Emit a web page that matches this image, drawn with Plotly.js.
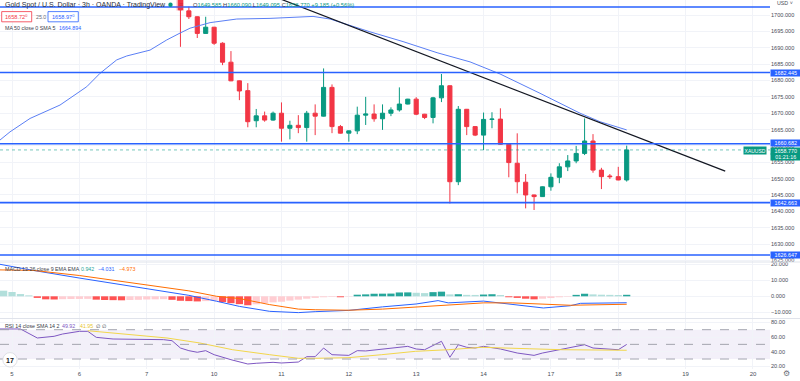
<!DOCTYPE html>
<html><head><meta charset="utf-8">
<script src="https://cdn.plot.ly/plotly-3.0.1.min.js"></script>
<style>html,body{margin:0;padding:0;background:#fff;}#chart{width:800px;height:381px;}</style>
</head><body><div id="chart"></div>
<script>
// ================= DATA =================
const dayLabels = ['5','6','7','10','11','12','13','14','17','18','19','20'];
const candlesPerDay = 8;          // 3h candles
const firstCandleIndex = 20;      // first visible candle (day 7, 12:00)

const open  = [1708.0,1701.3,1699.5,1694.4,1696.3,1691.4,1685.6,1679.9,1676.9,1667.7,1669.2,1667.9,1670.0,1665.4,1666.3,1665.6,1670.0,1669.1,1677.9,1665.9,1663.9,1664.6,1669.4,1669.75,1668.3,1670.0,1671.0,1672.8,1674.3,1669.7,1668.7,1674.7,1678.4,1649.05,1671.2,1665.9,1663.3,1668.1,1668.2,1660.5,1654.7,1648.9,1645.0,1644.5,1647.5,1650.4,1653.6,1655.4,1657.7,1661.5,1652.6,1650.8,1650.6,1649.585];
const high  = [1710.0,1702.6,1699.6,1699.5,1696.4,1691.7,1689.0,1680.0,1679.2,1671.3,1670.5,1670.5,1673.3,1667.7,1669.4,1670.7,1672.7,1683.7,1678.8,1666.4,1664.7,1672.0,1675.0,1672.7,1672.7,1671.8,1677.9,1674.4,1674.9,1669.8,1675.0,1682.0,1678.5,1672.2,1671.3,1666.0,1670.2,1670.3,1671.5,1660.6,1663.85,1651.4,1645.1,1647.6,1651.6,1654.7,1657.2,1660.0,1668.4,1663.6,1653.3,1651.4,1653.6,1660.090];
const low   = [1690.3,1698.8,1693.0,1694.3,1690.9,1684.7,1679.8,1674.0,1665.7,1665.7,1667.4,1667.7,1661.3,1662.0,1663.9,1661.3,1663.3,1669.0,1663.9,1663.8,1661.3,1663.6,1666.4,1667.4,1664.9,1669.1,1670.5,1672.7,1669.4,1668.2,1666.9,1673.4,1642.4,1648.0,1663.3,1663.0,1658.7,1665.4,1660.4,1650.4,1645.5,1640.9,1640.4,1644.4,1646.3,1648.6,1652.3,1654.7,1657.2,1651.8,1646.8,1649.9,1649.5,1649.095];
const close = [1701.6,1699.5,1694.4,1696.3,1691.4,1685.6,1679.9,1676.8,1667.4,1669.2,1667.9,1670.0,1665.4,1666.3,1665.6,1670.0,1669.1,1677.9,1665.9,1663.9,1664.6,1669.4,1669.75,1668.3,1670.0,1671.0,1672.8,1674.3,1669.7,1668.7,1674.7,1678.4,1649.05,1671.2,1665.9,1663.3,1668.1,1668.2,1660.5,1654.9,1649.05,1645.0,1644.5,1647.5,1650.4,1653.6,1655.4,1657.7,1661.5,1652.6,1650.6,1650.6,1649.585,1658.770];

// MA 50 (candle index positions, price)
const maX = [-1.43,-0.24,2.14,5.7,8.87,10.45,12.43,13.62,16.39,18.37,19.95,21.14,23.52,26.69,30.64,35.75,37.77,42.5,46.44,50.48,54.39,57.96,62.7,67.46,69.83,73];
const maY = [1661.8,1664.3,1668.4,1672.5,1678.1,1682.2,1686.3,1687.5,1689.3,1692.4,1694.5,1696.0,1697.7,1698.8,1699.0,1699.6,1698.8,1694.9,1691.9,1688.5,1685.7,1682.0,1676.1,1670.0,1667.4,1664.894];

// drawn trend line and horizontal levels
const trendX = [30.6, 84.7];
const trendY = [1706.2, 1652.3];
const topLevel = 1702.5;
const levels = [1682.445, 1660.682, 1642.663, 1626.647];
const lastPrice = 1658.770;
const countdown = '01:21:16';

// MACD
const histStart = -1;
const macdHist = [3.5,2.7,1.4,0.6,-1.0,-1.9,-2.0,-1.8,-1.7,-1.65,-1.6,-2.1,-2.3,-2.4,-2.5,-2.3,-2.2,-2.0,-1.9,-1.8,-2.2,-2.8,-3.0,-3.2,-3.0,-2.8,-3.6,-4.3,-4.9,-5.6,-5.0,-4.2,-3.8,-3.4,-2.7,-2.1,-1.5,-1.0,-0.6,-0.4,-0.6,-0.2,1.0,1.2,1.6,1.65,1.7,2.4,2.45,2.2,2.0,2.6,2.9,1.2,1.3,0.9,0.85,1.1,1.3,0.8,-0.6,-1.0,-1.5,-1.9,-1.5,-1.1,-0.6,-0.3,0.9,1.6,1.2,1.0,0.9,0.8,0.942];
const macdX = [-1.43,2.5,8,14.5,21,24.3,27,30.6,34,36,40,44,48,50.6,51.8,56,59.4,62,63.1,66.3,67.5,73];
const macdLine = [20.0,16.2,11.4,5.8,0.6,-3.1,-6.3,-9.4,-10.2,-9.6,-8.8,-6.6,-4.8,-2.7,-4.1,-3.0,-5.0,-6.5,-7.3,-5.9,-4.4,-4.031];
const signalX = [-1.43,2.5,8,14.5,21,24.3,27,30.6,34,36,40,44,48,51.8,56,59.4,62,66.3,73];
const signalLine = [16.5,16.2,13.0,8.1,3.4,0.0,-1.4,-5.2,-8.0,-8.4,-8.7,-8.0,-6.8,-5.3,-4.1,-4.1,-4.6,-5.6,-4.973];

// RSI
const rsiX = [-1.43,1,3,5,6,8,9,10,12,14,18,19,20,21,22,23,24,26,28,29,31,32,34,35,36,37,38,40,41,42,44,47,48,49,51,52,53,54,55,56,58,60,62,63,65,68,69,72,73];
const rsi  = [71,71,58.7,61,64.1,67.8,67.8,59.6,57.3,56.9,56.4,55,45,41.4,39.2,41.4,35.9,29.1,23.2,24.2,25.5,24.6,25.9,33.2,33.2,45,35.9,35,41.4,41,43.3,47.3,43.7,42.7,54.2,32.4,49.5,46,45,47.3,43.7,38.2,35,38.2,42.7,49.5,45,42.7,49.92];
const rsiMaX = [9,14.4,18.4,22.3,26.2,30.6,34,36,39.9,43.9,47.9,51.8,55.8,61.5,65.4,73];
const rsiMa  = [68.6,62.4,58.7,51.9,42.7,35.9,31,31,31.8,35.9,40.5,42.7,46,44,42.7,41.95];
const rsiBands = [70, 50, 30];

// ================= STYLE / LAYOUT =================
const FONT = 'Liberation Sans, Arial, sans-serif';
const UP = '#089981', DOWN = '#f23645', BLUE = '#2962ff', ORANGE = '#ff6d00', PURPLE = '#7e57c2', YELLOW = '#f2d64b';
const W = 800, H = 381, M = {l:0, r:30, t:0, b:12};
const plotW = W - M.l - M.r, plotH = H - M.t - M.b;
const px = v => v / plotW;
const py = v => 1 - v / plotH;
const priceDom = [py(262), 1], macdDom = [py(318), py(262)], rsiDom = [0, py(319)];

const candleX = close.map((_, i) => firstCandleIndex + i);
const histX = macdHist.map((_, i) => histStart + i);
const histColors = macdHist.map((v, i) => {
  const prev = i ? macdHist[i-1] : Infinity;
  if (v >= 0) return v > prev ? '#26a69a' : '#b2dfdb';
  return v > prev ? '#ffcdd2' : '#ff5252';
});

const traces = [
  {type:'scatter', mode:'lines', x:maX, y:maY, yaxis:'y', line:{color:'#5b7ff5', width:1}, hoverinfo:'skip'},
  {type:'candlestick', x:candleX, open, high, low, close, yaxis:'y',
   increasing:{line:{color:UP, width:1}, fillcolor:UP},
   decreasing:{line:{color:DOWN, width:1}, fillcolor:DOWN}, whiskerwidth:0, hoverinfo:'skip'},
  {type:'scatter', mode:'lines', x:trendX, y:trendY, yaxis:'y', line:{color:'#131722', width:1.2}, hoverinfo:'skip'},
  {type:'bar', x:histX, y:macdHist, yaxis:'y2', marker:{color:histColors, line:{width:0}}, width:0.86, hoverinfo:'skip'},
  {type:'scatter', mode:'lines', x:macdX, y:macdLine, yaxis:'y2', line:{color:BLUE, width:1}, hoverinfo:'skip'},
  {type:'scatter', mode:'lines', x:signalX, y:signalLine, yaxis:'y2', line:{color:ORANGE, width:1}, hoverinfo:'skip'},
  {type:'scatter', mode:'lines', x:rsiX, y:rsi, yaxis:'y3', line:{color:PURPLE, width:1}, hoverinfo:'skip'},
  {type:'scatter', mode:'lines', x:rsiMaX, y:rsiMa, yaxis:'y3', line:{color:YELLOW, width:1}, hoverinfo:'skip'}
];

const tickFont = {family:FONT, size:5.6, color:'#4a4e59'};
const grid = '#f1f3f8';
const axisCommon = {side:'right', anchor:'x', showline:false, zeroline:false, ticks:'', tickfont:tickFont, gridcolor:grid, fixedrange:true};

const shapes = [];
[topLevel, ...levels].forEach(v => shapes.push({type:'line', xref:'x domain', x0:0, x1:1, yref:'y', y0:v, y1:v, line:{color:BLUE, width:1.6}}));
shapes.push({type:'line', xref:'x domain', x0:0, x1:1, yref:'y', y0:lastPrice, y1:lastPrice, line:{color:'rgba(8,153,129,0.55)', width:1, dash:'dot'}});
shapes.push({type:'rect', xref:'x domain', x0:0, x1:1, yref:'y3', y0:rsiBands[2], y1:rsiBands[0], fillcolor:'rgba(126,87,194,0.09)', line:{width:0}, layer:'below'});
rsiBands.forEach(v => shapes.push({type:'line', xref:'x domain', x0:0, x1:1, yref:'y3', y0:v, y1:v, line:{color:'#9a9ca6', width:0.9, dash:'dash'}}));
[priceDom[0], (macdDom[0] + rsiDom[1]) / 2].forEach(v => shapes.push({type:'line', xref:'paper', x0:0, x1:W/plotW, yref:'paper', y0:v, y1:v, line:{color:'#e0e3eb', width:1.2}}));
shapes.push({type:'circle', xref:'paper', yref:'paper', x0:px(168.3), x1:px(172.7), y0:py(6.9), y1:py(2.5), fillcolor:UP, line:{width:0}});
shapes.push({type:'rect', xref:'paper', yref:'paper', x0:px(176.5), x1:px(184), y0:py(10.5), y1:py(0), fillcolor:'rgba(242,54,69,0.35)', line:{width:0}});
shapes.push({type:'rect', xref:'paper', yref:'paper', x0:px(1.7), x1:px(31.7), y0:py(21.8), y1:py(11.6), fillcolor:'#fff', line:{color:DOWN, width:0.8}});
shapes.push({type:'rect', xref:'paper', yref:'paper', x0:px(48), x1:px(78.3), y0:py(21.8), y1:py(11.6), fillcolor:'#fff', line:{color:BLUE, width:0.8}});
shapes.push({type:'circle', xref:'paper', yref:'paper', x0:px(2.8), x1:px(17.2), y0:py(367), y1:py(352.6), fillcolor:'#fff', line:{color:'#d6d8de', width:0.8}});

function txt(text, x, y, size, color, extra) {
  return Object.assign({text, xref:'paper', yref:'paper', x:px(x), y:py(y), xanchor:'left', yanchor:'middle',
    showarrow:false, font:{family:FONT, size, color}}, extra || {});
}
const G = '#3a3e4a';
const ohlc = `<span style="color:${G}">O</span>1649.585 <span style="color:${G}">H</span>1660.090 <span style="color:${G}">L</span>1649.095 <span style="color:${G}">C</span>1658.770 +9.185 (+0.56%)`;
const annotations = [
  txt('Gold Spot / U.S. Dollar · 3h · OANDA · TradingView', 2.5, 5, 7, '#2a2e39'),
  txt('≡', 177, 5, 7, '#d81b3c'),
  txt(ohlc, 190.5, 5, 5.75, UP),
  txt('1658.72<sup>0</sup>', 16.7, 16.8, 5.6, DOWN, {xanchor:'center'}),
  txt('25.0', 40.5, 16.8, 5.3, '#6a6d78', {xanchor:'center'}),
  txt('1658.97<sup>0</sup>', 63.2, 16.8, 5.6, BLUE, {xanchor:'center'}),
  txt('MA 50 close 0 SMA 5', 2.5, 28.4, 5.3, G),
  txt('1664.894', 57, 28.4, 5.3, BLUE),
  txt('MACD 12 26 close 9 EMA EMA', 2.5, 269, 5.3, G),
  txt('0.942', 79, 269, 5.3, '#26a69a'),
  txt('−4.031', 96.5, 269, 5.3, BLUE),
  txt('−4.973', 116.5, 269, 5.3, ORANGE),
  txt('RSI 14 close SMA 14 2', 2.5, 326, 5.3, G),
  txt('49.92', 60, 326, 5.3, PURPLE),
  txt('41.95', 78, 326, 5.3, '#e8c62c'),
  txt('∅', 94, 326, 5.3, G),
  txt('∅', 99.8, 326, 5.3, G),
  txt('<b>17</b>', 10, 360, 7, '#131722', {xanchor:'center'}),
  txt('USD ˅', 775, 3.5, 5.3, '#4a4e59'),
  txt('⚙', 786.5, 373.5, 8, '#6a6d78', {xanchor:'center'}),
  txt('XAUUSD', 767, 150.5, 5, '#fff', {xanchor:'right', bgcolor:UP, borderpad:0.6})
];
const boxFont = {family:FONT, size:5.4, color:'#fff'};
function axisBox(text, y, color, shift) {
  return {text, xref:'paper', yref:'y', x:1, y, yshift:shift || 0, xanchor:'left', yanchor:'middle', showarrow:false,
    bgcolor:color, borderpad:0.3, width:29, height:5.6, align:'center', font:boxFont};
}
levels.forEach(v => annotations.push(axisBox(v.toFixed(3), v, BLUE, v === 1660.682 ? 0.8 : 0)));
annotations.push(axisBox(lastPrice.toFixed(3), lastPrice, UP, -0.8));
annotations.push(axisBox(countdown, lastPrice, UP, -7.0));

const layout = {
  width:W, height:H, margin:M, showlegend:false, paper_bgcolor:'#fff', plot_bgcolor:'#fff',
  font:{family:FONT},
  xaxis:{anchor:'y3', range:[-1.43, 90.02], tickvals:dayLabels.map((_, i) => i * candlesPerDay), ticktext:dayLabels,
    showgrid:true, gridcolor:grid, zeroline:false, showline:false, ticks:'', tickfont:{family:FONT, size:6, color:'#4a4e59'},
    rangeslider:{visible:false}, fixedrange:true},
  yaxis:Object.assign({}, axisCommon, {domain:priceDom, range:[1624.5, 1704.62], dtick:5, tick0:0, tickformat:'.3f'}),
  yaxis2:Object.assign({}, axisCommon, {domain:macdDom, range:[-13.56, 21.44], tickvals:[-10,0,10,20], tickformat:'.3f'}),
  yaxis3:Object.assign({}, axisCommon, {domain:rsiDom, range:[16.4, 84.6], tickvals:[20,40,60,80], tickformat:'.2f'}),
  shapes, annotations
};
Plotly.newPlot('chart', traces, layout, {displayModeBar:false, staticPlot:true});
</script></body></html>
